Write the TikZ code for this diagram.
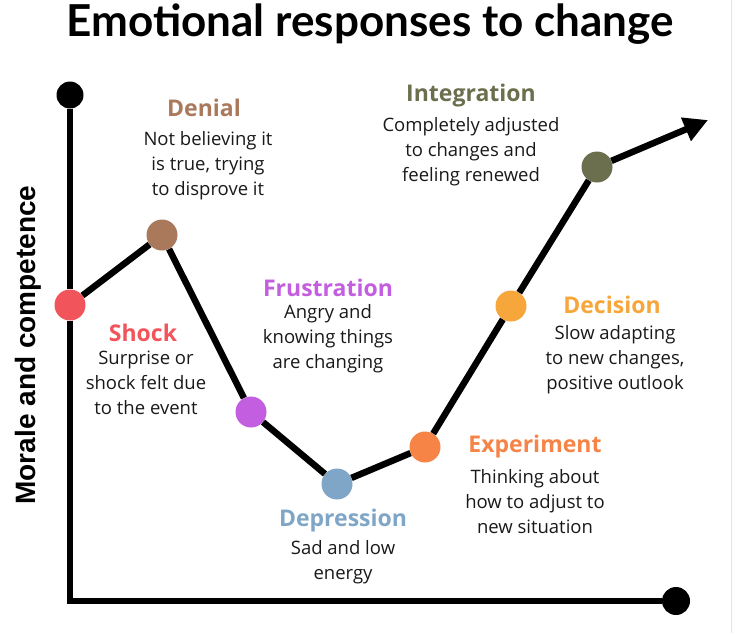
\documentclass[tikz,border=0pt]{standalone}
\usepackage{fontspec}
\setmainfont{Open Sans}
\newfontfamily\titlefont{Lato}
\newfontfamily\axisfont{Liberation Sans}
\usepackage{tikz}
\usetikzlibrary{arrows.meta,positioning}
\definecolor{shockred}{RGB}{242,84,91}
\definecolor{denialbrown}{RGB}{170,121,92}
\definecolor{frustpurple}{RGB}{196,94,224}
\definecolor{deprblue}{RGB}{127,166,199}
\definecolor{exporange}{RGB}{245,132,70}
\definecolor{decyellow}{RGB}{246,166,58}
\definecolor{integolive}{RGB}{107,111,77}
\definecolor{bodygray}{RGB}{25,25,25}

\begin{document}
\begin{tikzpicture}[x=1pt, y=-1pt,
  stage/.style={circle, fill=#1, minimum size=31pt, inner sep=0pt},
  enddot/.style={circle, fill=black, minimum size=28pt, inner sep=0pt},
  axisline/.style={line width=6pt},
  curveline/.style={line width=6.5pt, line join=round},
  stagetitle/.style={text=#1, font=\bfseries\fontsize{23}{27}\selectfont},
  stagetext/.style={text=bodygray, align=center, font=\fontsize{18.5}{25}\selectfont}]
\useasboundingbox (0,0) rectangle (740,633);
\draw[black!10, line width=1pt] (731,0) -- (731,633);

% titolo e asse verticale
\node[anchor=base, font=\titlefont\bfseries\fontsize{44}{50}\selectfont] (title) at (370,36) {Emotional responses to change};
\node[rotate=90, font=\axisfont\bfseries\fontsize{28}{32}\selectfont] (ylabel) at (28,345) {Morale and competence};

% punti della curva
\node[enddot, minimum size=27pt] (ytop) at (70,95) {};
\node[enddot] (xend) at (676,601) {};
\coordinate (origin) at (70,601);
\node[stage=shockred] (shock) at (70,305) {};
\node[stage=denialbrown] (denial) at (162,235) {};
\node[stage=frustpurple] (frust) at (251,412) {};
\node[stage=deprblue] (depr) at (337,484) {};
\node[stage=exporange] (exper) at (425,447) {};
\node[stage=decyellow] (decis) at (511,306) {};
\node[stage=integolive] (integ) at (597,167) {};
\coordinate (tip) at (708,120);

% assi
\draw[axisline] (ytop) -- (shock);
\draw[axisline] (shock) -- (origin) -- (xend);

% curva
\draw[curveline] (shock) -- (denial);
\draw[curveline] (denial) -- (frust);
\draw[curveline] (frust) -- (depr);
\draw[curveline] (depr) -- (exper);
\draw[curveline] (exper) -- (decis);
\draw[curveline] (decis) -- (integ);
\draw[curveline, -{Triangle[length=24pt, width=24pt]}] (integ) -- (tip);

% etichette delle fasi
\node[stagetitle=shockred] (shockT) at (143,333) {Shock};
\node[stagetext] (shockD) at (146,383) {Surprise or\\shock felt due\\to the event};
\node[stagetitle=denialbrown] (denialT) at (204,108) {Denial};
\node[stagetext] (denialD) at (208,166) {Not believing it\\is true, trying\\to disprove it};
\node[stagetitle=frustpurple] (frustT) at (328,288) {Frustration};
\node[stagetext] (frustD) at (328,339) {Angry and\\knowing things\\are changing};
\node[stagetitle=deprblue] (deprT) at (343,521) {Depression};
\node[stagetext] (deprD) at (343,562) {Sad and low\\energy};
\node[stagetitle=exporange] (experT) at (535,447) {Experiment};
\node[stagetext] (experD) at (535,502) {Thinking about\\how to adjust to\\new situation};
\node[stagetitle=decyellow] (decisT) at (612,305) {Decision};
\node[stagetext] (decisD) at (615,360) {Slow adapting\\to new changes,\\positive outlook};
\node[stagetitle=integolive] (integT) at (471,96) {Integration};
\node[stagetext] (integD) at (471,152) {Completely adjusted\\to changes and\\feeling renewed};
\end{tikzpicture}
\end{document}
